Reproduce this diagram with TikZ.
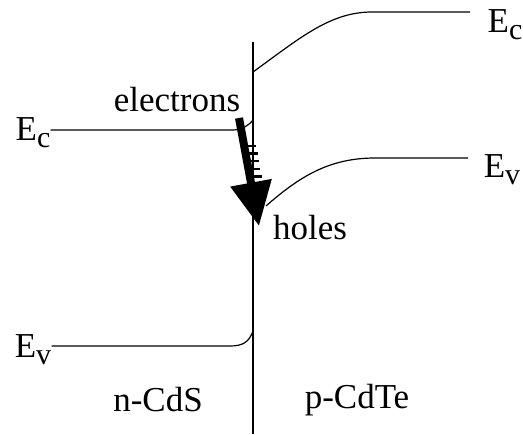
\documentclass[tikz,border=0pt]{standalone}
\usepackage{fontspec}
\setmainfont{Liberation Serif}
\usetikzlibrary{arrows.meta,calc}
\tikzset{
  lbl/.style={font=\fontsize{17.5}{20}\selectfont, inner sep=0pt},
  band/.style={line width=0.6pt},
  flow/.style={-{Triangle[width=20pt,length=22pt]}, line width=4pt},
}
\newcommand{\Eband}[1]{E\raisebox{-0.45ex}{\fontsize{15}{15}\selectfont #1}}

\begin{document}
\begin{tikzpicture}[x=0.5pt,y=-0.5pt]
\useasboundingbox (0,0) rectangle (523,434);

% junction
\coordinate (jtop) at (253,42);
\coordinate (jbot) at (253,434);
\draw[band] (jtop) -- (jbot);

% band labels
\node[lbl] (ecl) at (33,133) {\Eband{c}};
\node[lbl] (evl) at (33,350) {\Eband{v}};
\node[lbl] (ecr) at (505,25) {\Eband{c}};
\node[lbl] (evr) at (502,170) {\Eband{v}};

% n-CdS side
\draw[band] (ecl.east |- 0,130) -- (232,130) .. controls (242,130) and (248,126) .. (253,120);
\draw[band] (evl.east |- 0,346) -- (230,346) .. controls (243,346) and (249,342) .. (253,331);

% p-CdTe side
\draw[band] (253,72) .. controls (300,38) and (330,12) .. (372,12) -- (470,12);
\draw[band] (266,206) .. controls (300,176) and (330,158) .. (375,158) -- (468,158);

% carrier flow
\coordinate (fs) at (239,118);
\coordinate (ft) at (259,226);
\draw[flow] (fs) -- (ft);
\foreach \t in {0.26,0.33,0.40,0.47,0.54}
  \draw[line width=1.2pt] ($(fs)!\t!(ft)$) -- ++(12,0);

\node[lbl] (el) at (177,100) {electrons};
\node[lbl] (ho) at (310,228) {holes};

% regions
\node[lbl] (ncds) at (158,400) {n-CdS};
\node[lbl] (pcdte) at (357,400) {p-CdTe};
\end{tikzpicture}
\end{document}
